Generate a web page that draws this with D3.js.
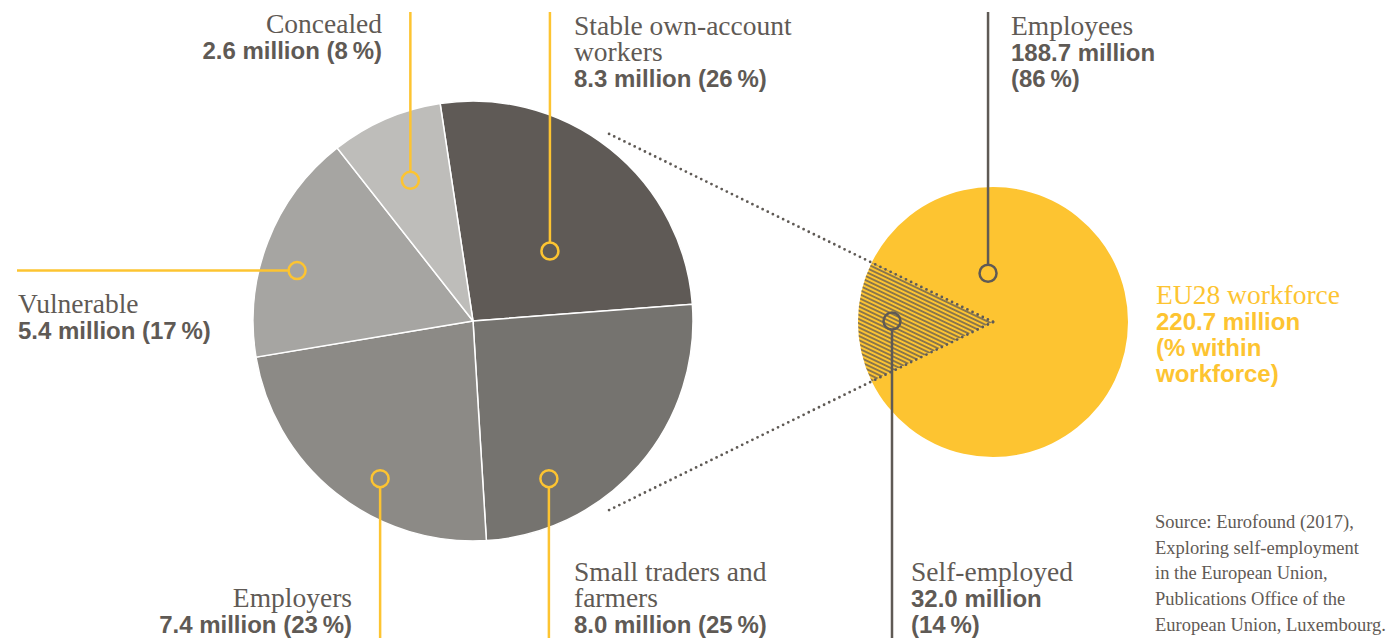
<!DOCTYPE html>
<html>
<head>
<meta charset="utf-8">
<script src="https://cdn.jsdelivr.net/npm/d3@7/dist/d3.min.js"></script>
<style>
  body { margin: 0; background: #fff; }
  svg { display: block; }
</style>
</head>
<body>
<div id="chart"></div>
<script>
// self-employed, split by cluster (million people)
var segments = ["Stable own-account workers", "Small traders and farmers", "Employers", "Vulnerable", "Concealed"];
var segmentLines = [["Stable own-account", "workers"], ["Small traders and", "farmers"], ["Employers"], ["Vulnerable"], ["Concealed"]];
var segmentValues = [8.3, 8.0, 7.4, 5.4, 2.6];
var segmentShares = [26, 25, 23, 17, 8];

// EU28 workforce (million people)
var workforce = ["Employees", "Self-employed"];
var workforceValues = [188.7, 32.0];
var workforceShares = [86, 14];
var workforceTotal = 220.7;
var workforceTitle = ["EU28 workforce"];
var workforceNote = ["(% within", "workforce)"];

var sourceLines = [
  "Source: Eurofound (2017),",
  "Exploring self-employment",
  "in the European Union,",
  "Publications Office of the",
  "European Union, Luxembourg."
];

var W = 1396, H = 638;
var grey = "#5f5a55", yellow = "#fdc431";
var serif = "'Liberation Serif', 'DejaVu Serif', serif";
var sans = "'Liberation Sans', Arial, sans-serif";

var segColors = ["#5f5a56", "#75736f", "#8c8a86", "#a6a5a2", "#bebdba"];

// where the markers sit and where their labels go
var segLayout = [
  {ang: 47.7, r: 104, dir: "up", lx: 574, ly: 35, anchor: "start"},
  {ang: 154.3, r: 175, dir: "down", lx: 574, ly: 581, anchor: "start"},
  {ang: 210.5, r: 183, dir: "down", lx: 352, ly: 607, anchor: "end"},
  {ang: 286, r: 183, dir: "left", lx: 18, ly: 313, anchor: "start"},
  {ang: 336, r: 154, dir: "up", lx: 382, ly: 33, anchor: "end"}
];
var wfLayout = [
  {ang: -5.8, r: 49, dir: "up", lx: 1011, ly: 35},
  {ang: 270.5, r: 101, dir: "down", lx: 911, ly: 581}
];

var big = {cx: 473, cy: 321, r: 220};
var small = {cx: 993, cy: 322, r: 135};
var lineGap = 26;
var rad = Math.PI / 180;

var svg = d3.select("#chart")
  .append("svg")
  .attr("width", W)
  .attr("height", H);

var defs = svg.append("defs");
var hatch = defs.append("pattern")
  .attr("id", "hatch")
  .attr("patternUnits", "userSpaceOnUse")
  .attr("width", 10)
  .attr("height", 3.8)
  .attr("patternTransform", "rotate(25.5)");
hatch.append("line")
  .attr("x1", 0).attr("x2", 10)
  .attr("y1", 1.9).attr("y2", 1.9)
  .attr("stroke", grey)
  .attr("stroke-width", 1.4);

function polar(c, angDeg, r) {
  return [c.cx + r * Math.sin(angDeg * rad), c.cy - r * Math.cos(angDeg * rad)];
}

// ---- big pie: self-employed clusters
var start = -8.6 * rad;
var pieBig = d3.pie().sort(null).startAngle(start).endAngle(start + 2 * Math.PI);
var arcBig = d3.arc().innerRadius(0).outerRadius(big.r);

svg.append("g")
  .attr("transform", "translate(" + big.cx + "," + big.cy + ")")
  .selectAll("path")
  .data(pieBig(segmentValues))
  .enter()
  .append("path")
  .attr("d", arcBig)
  .attr("fill", function(d, i) { return segColors[i]; })
  .attr("stroke", "#fff")
  .attr("stroke-width", 1.5);

// ---- small pie: workforce
var selfSpan = 2 * Math.PI * workforceValues[1] / d3.sum(workforceValues);
var wStart = 1.5 * Math.PI + selfSpan / 2 - 2 * Math.PI;
var pieSmall = d3.pie().sort(null).startAngle(wStart).endAngle(wStart + 2 * Math.PI);
var arcSmall = d3.arc().innerRadius(0).outerRadius(small.r);
var wArcs = pieSmall(workforceValues);

var gs = svg.append("g")
  .attr("transform", "translate(" + small.cx + "," + small.cy + ")");
gs.selectAll("path.base")
  .data(wArcs)
  .enter()
  .append("path")
  .attr("class", "base")
  .attr("d", arcSmall)
  .attr("fill", yellow);
gs.append("path")
  .attr("d", arcSmall(wArcs[1]))
  .attr("fill", "url(#hatch)");

// dotted links from the self-employed wedge to the big pie
var linkLen = 430;
[wArcs[1].startAngle, wArcs[1].endAngle].forEach(function(a) {
  var p = polar(small, a / rad, linkLen);
  svg.append("line")
    .attr("x1", small.cx).attr("y1", small.cy)
    .attr("x2", p[0]).attr("y2", p[1])
    .attr("stroke", grey)
    .attr("stroke-width", 2.8)
    .attr("stroke-linecap", "round")
    .attr("stroke-dasharray", "0,5.7");
});

// ---- markers + leader lines
function marker(c, lay, color) {
  var p = polar(c, lay.ang, lay.r);
  var mr = 8.5;
  var x2 = p[0], y2 = p[1], x1 = p[0], y1 = p[1];
  if (lay.dir === "up") { y1 = 12; y2 = p[1] - mr; }
  if (lay.dir === "down") { y1 = p[1] + mr; y2 = H; }
  if (lay.dir === "left") { x1 = 17; x2 = p[0] - mr; }
  svg.append("line")
    .attr("x1", x1).attr("y1", y1)
    .attr("x2", x2).attr("y2", y2)
    .attr("stroke", color)
    .attr("stroke-width", 2.5);
  svg.append("circle")
    .attr("cx", p[0]).attr("cy", p[1])
    .attr("r", mr)
    .attr("fill", "none")
    .attr("stroke", color)
    .attr("stroke-width", 2.5);
}

segLayout.forEach(function(l) { marker(big, l, yellow); });
wfLayout.forEach(function(l) { marker(small, l, grey); });

// ---- labels
function label(x, y, anchor, plain, bold, color) {
  var t = svg.append("text")
    .attr("text-anchor", anchor)
    .attr("fill", color);
  var k = 0;
  plain.forEach(function(s) {
    t.append("tspan")
      .attr("x", x).attr("y", y + lineGap * k++)
      .attr("font-family", serif)
      .attr("font-size", 27.5)
      .text(s);
  });
  bold.forEach(function(s) {
    t.append("tspan")
      .attr("x", x).attr("y", y + lineGap * k++)
      .attr("font-family", sans)
      .attr("font-weight", "bold")
      .attr("font-size", 24)
      .text(s);
  });
}

segments.forEach(function(name, i) {
  var l = segLayout[i];
  label(l.lx, l.ly, l.anchor, segmentLines[i],
    [segmentValues[i].toFixed(1) + " million (" + segmentShares[i] + "\u2009%)"], grey);
});

workforce.forEach(function(name, i) {
  var l = wfLayout[i];
  label(l.lx, l.ly, "start", [name],
    [workforceValues[i].toFixed(1) + " million", "(" + workforceShares[i] + "\u2009%)"], grey);
});

label(1156, 304, "start", workforceTitle,
  [workforceTotal.toFixed(1) + " million"].concat(workforceNote), yellow);

// ---- source note
svg.append("g")
  .selectAll("text")
  .data(sourceLines)
  .enter()
  .append("text")
  .attr("x", 1155)
  .attr("y", function(d, i) { return 528 + i * 25.7; })
  .attr("font-family", serif)
  .attr("font-size", 18.5)
  .attr("fill", grey)
  .text(function(d) { return d; });
</script>
</body>
</html>
